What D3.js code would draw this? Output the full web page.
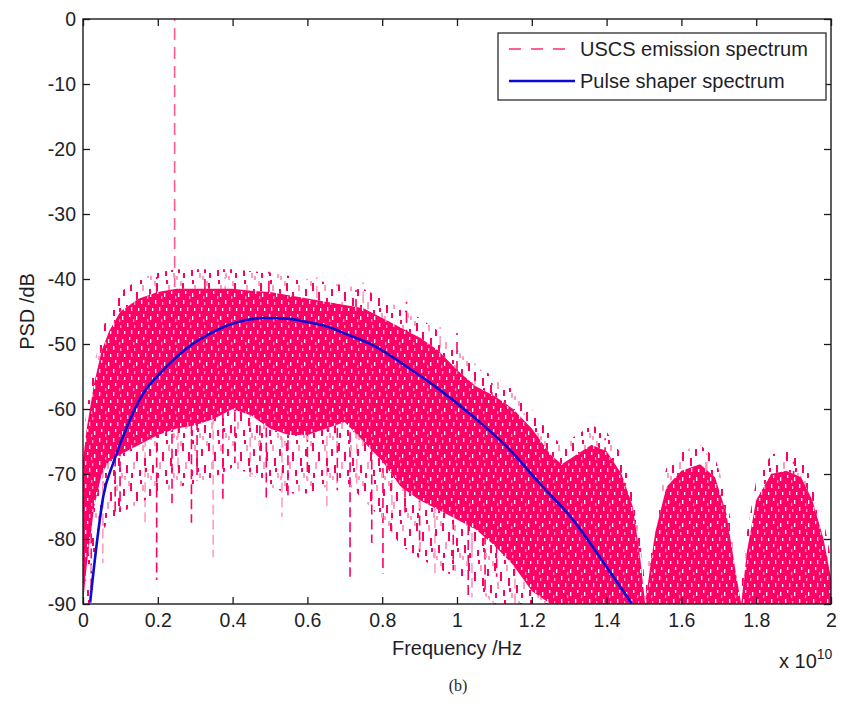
<!DOCTYPE html>
<html>
<head>
<meta charset="utf-8">
<script src="https://cdn.jsdelivr.net/npm/d3@7"></script>
<style>
  body { margin: 0; background: #fff; }
  text { font-family: "Liberation Sans", Arial, sans-serif; fill: #1e1e28; }
</style>
</head>
<body>
<div id="chart"></div>
<script>
// frequencies in units of 1e10 Hz, levels in dB
var bandFreq = [0, 0.01, 0.03, 0.05, 0.07, 0.1, 0.15, 0.2, 0.25, 0.3, 0.35, 0.4, 0.45, 0.5, 0.55, 0.6, 0.65, 0.7, 0.75, 0.8,
  0.85, 0.9, 0.95, 1.0, 1.05, 1.1, 1.15, 1.2, 1.25, 1.28, 1.32, 1.36, 1.4, 1.44, 1.47, 1.49, 1.503, 1.515, 1.53, 1.56,
  1.6, 1.65, 1.69, 1.72, 1.745, 1.76, 1.775, 1.8, 1.84, 1.88, 1.92, 1.95, 1.98, 2.0];
var bandTop = [-68, -63, -56, -51, -48, -45, -43, -42, -41.5, -41.5, -41.5, -41.5, -41.8, -42, -42.5, -43, -43.5, -44, -44.5, -46,
  -47.5, -49, -51, -54, -56.5, -58, -60, -63, -67, -68.5, -67, -65.5, -66.5, -70, -75, -83, -90, -85, -79, -72,
  -69.5, -68.5, -70.5, -76, -85, -90, -82, -74, -70, -69.5, -70.5, -74, -80, -86];
var bandBottom = [-90, -84, -75, -70, -68, -67, -65.5, -64, -63, -62.5, -61.5, -60, -61, -63, -64, -64, -63, -62, -65, -68,
  -72, -74, -75.5, -77, -78.5, -81, -84, -88, -90, -90, -90, -90, -90, -90, -90, -90, -90, -90, -90, -90,
  -90, -90, -90, -90, -90, -90, -90, -90, -90, -90, -90, -90, -90, -90];

// isolated deep notches and tall spikes of the emission spectrum
var dipFreq = [0.022, 0.053, 0.086, 0.099, 0.166, 0.197, 0.238, 0.254, 0.29, 0.305, 0.348, 0.374, 0.406, 0.447, 0.473, 0.49, 0.532,
  0.548, 0.6, 0.652, 0.68, 0.714, 0.732, 0.772, 0.802, 0.826, 0.861, 0.9, 0.941, 0.99, 1.03, 1.04, 1.075, 1.106, 1.155];
var dipLow = [-88, -83.7, -76, -75.5, -77.5, -86.3, -74.5, -70, -77.5, -71, -82.8, -74.5, -68.3, -71, -68, -74, -76.6,
  -73.5, -71, -75, -72.5, -85.8, -72.5, -80.6, -85.3, -79, -76.6, -82, -85.8, -84.8, -89, -89, -88, -85.8, -90];
var peakFreq = [0.197, 0.245, 0.326, 0.38, 0.497, 0.625, 0.73, 0.749, 0.865, 0.955, 1.0, 1.048, 1.093, 1.18, 1.396, 1.668, 1.9];
var peakHigh = [-39.7, 0, -38.6, -39.7, -38.9, -39.7, -41.7, -40.5, -43.5, -47.4, -48.3, -53, -56, -60.6, -64.5, -66.8, -68.1];

var pulseFreq = [0.019, 0.037, 0.054, 0.081, 0.117, 0.161, 0.206, 0.25, 0.295, 0.34, 0.384, 0.438, 0.491, 0.545, 0.598, 0.652,
  0.705, 0.776, 0.866, 0.955, 1.044, 1.133, 1.222, 1.311, 1.4, 1.467];
var pulseDb = [-89.8, -80.6, -73.5, -68.3, -62.8, -57.6, -54.5, -52, -49.9, -48.4, -47.2, -46.3, -46, -46.1, -46.6, -47.3,
  -48.5, -50.2, -53.5, -57.1, -61.2, -65.8, -71.5, -77.1, -84.3, -89.9];

var xTicks = [0, 0.2, 0.4, 0.6, 0.8, 1, 1.2, 1.4, 1.6, 1.8, 2];
var yTicks = [0, -10, -20, -30, -40, -50, -60, -70, -80, -90];
var legendNames = ["USCS emission spectrum", "Pulse shaper spectrum"];

var W = 842, H = 705;
var plotLeft = 83, plotRight = 831, plotTop = 19, plotBottom = 604;
var pink = "#ff0066", pinkLight = "#ff9dbf", blue = "#0a0ad2";

var x = d3.scaleLinear().domain([0, 2]).range([plotLeft, plotRight]);
var y = d3.scaleLinear().domain([-90, 0]).range([plotBottom, plotTop]);

var svg = d3.select("#chart").append("svg")
  .attr("width", W).attr("height", H)
  .style("background", "#fff");

var defs = svg.append("defs");
defs.append("clipPath").attr("id", "plotClip")
  .append("rect").attr("x", plotLeft).attr("y", plotTop).attr("width", plotRight - plotLeft).attr("height", plotBottom - plotTop);

// dense core: pink with small vertical white gaps
var pat = defs.append("pattern").attr("id", "psdTex")
  .attr("patternUnits", "userSpaceOnUse").attr("width", 14).attr("height", 23);
pat.append("rect").attr("width", 14).attr("height", 23).attr("fill", pink);
[[1, 1, 1.3, 4, "#fff"], [5, 8, 1.3, 4, "#ffd0e0"], [3, 15, 1.3, 3, "#fff"], [8, 3, 1.3, 3, pinkLight],
 [10, 17, 1.3, 4, "#fff"], [12, 9, 1.3, 3, "#fff"], [7, 20, 1.3, 3, pinkLight]].forEach(function (r) {
  pat.append("rect").attr("x", r[0]).attr("y", r[1]).attr("width", r[2]).attr("height", r[3]).attr("fill", r[4]);
});

// ragged fringe: sparse vertical dashes
var fr = defs.append("pattern").attr("id", "psdFringe")
  .attr("patternUnits", "userSpaceOnUse").attr("width", 26).attr("height", 40);
[[0, 3, 2, 8, pink], [3, 22, 2, 7, pinkLight], [6, 12, 2, 9, pink], [9, 30, 2, 6, pink], [12, 5, 2, 6, pinkLight],
 [14, 18, 2, 8, pink], [17, 33, 2, 5, pinkLight], [19, 9, 2, 7, pink], [22, 25, 2, 8, pink], [24, 1, 2, 5, pinkLight],
 [1, 33, 2, 5, pink], [10, 0, 2, 4, pink], [15, 28, 2, 4, pink], [20, 36, 2, 4, pinkLight]].forEach(function (r) {
  fr.append("rect").attr("x", r[0]).attr("y", r[1]).attr("width", r[2]).attr("height", r[3]).attr("fill", r[4]);
});

var plot = svg.append("g").attr("clip-path", "url(#plotClip)");

// notches below the band
plot.selectAll(".dip").data(dipFreq).enter().append("line")
  .attr("class", "dip")
  .attr("x1", function (d) { return x(d); }).attr("x2", function (d) { return x(d); })
  .attr("y1", function (d, i) { return y(dipLow[i] + 25); })
  .attr("y2", function (d, i) { return y(dipLow[i]); })
  .attr("stroke", function (d, i) { return i % 3 == 1 ? pinkLight : pink; })
  .attr("stroke-width", 1.6)
  .attr("stroke-dasharray", "10,5")
  .attr("stroke-dashoffset", function (d, i) { return (i * 7) % 15; });

// spikes above the band
plot.selectAll(".peak").data(peakFreq).enter().append("line")
  .attr("class", "peak")
  .attr("x1", function (d) { return x(d); }).attr("x2", function (d) { return x(d); })
  .attr("y1", function (d, i) { return y(Math.min(peakHigh[i] - 12, -50)); })
  .attr("y2", function (d, i) { return y(peakHigh[i]); })
  .attr("stroke", function (d, i) { return peakHigh[i] == 0 ? "#ff5a92" : (i % 2 ? pinkLight : pink); })
  .attr("stroke-width", 1.6)
  .attr("stroke-dasharray", "12,7");

var bandData = bandFreq.map(function (f, i) { return { f: f, hi: bandTop[i], lo: bandBottom[i] }; });
var bx = function (d) { return x(d.f); };

// upper and lower fringes, then the dense core on top
plot.append("path").datum(bandData)
  .attr("d", d3.area().x(bx).y0(function (d) { return y(d.hi); }).y1(function (d) { return y(d.hi + 3); }))
  .attr("fill", "url(#psdFringe)");
plot.append("path").datum(bandData)
  .attr("d", d3.area().x(bx).y0(function (d) { return y(d.lo - 9); }).y1(function (d) { return y(d.lo); }))
  .attr("fill", "url(#psdFringe)");
plot.append("path").datum(bandData)
  .attr("d", d3.area().x(bx).y0(function (d) { return y(d.lo); }).y1(function (d) { return y(d.hi); }))
  .attr("fill", "url(#psdTex)");

var pulseData = pulseFreq.map(function (f, i) { return { f: f, db: pulseDb[i] }; });
var line = d3.line()
  .x(function (d) { return x(d.f); })
  .y(function (d) { return y(d.db); })
  .curve(d3.curveMonotoneX);
plot.append("path").datum(pulseData).attr("d", line)
  .attr("fill", "none").attr("stroke", blue).attr("stroke-width", 2.6);

// axes, MATLAB style box with inward ticks
var fmt = d3.format("~g");
var gx = svg.append("g").attr("transform", "translate(0," + plotBottom + ")")
  .call(d3.axisBottom(x).tickValues(xTicks).tickFormat(fmt).tickSizeInner(-7).tickSizeOuter(0).tickPadding(9));
var gxt = svg.append("g").attr("transform", "translate(0," + plotTop + ")")
  .call(d3.axisTop(x).tickValues(xTicks).tickFormat("").tickSizeInner(-7).tickSizeOuter(0));
var gy = svg.append("g").attr("transform", "translate(" + plotLeft + ",0)")
  .call(d3.axisLeft(y).tickValues(yTicks).tickFormat(function (d) { return String(d); }).tickSizeInner(-7).tickSizeOuter(0).tickPadding(7));
var gyr = svg.append("g").attr("transform", "translate(" + plotRight + ",0)")
  .call(d3.axisRight(y).tickValues(yTicks).tickFormat("").tickSizeInner(-7).tickSizeOuter(0));

[gx, gxt, gy, gyr].forEach(function (g) {
  g.select(".domain").remove();
  g.selectAll(".tick line").attr("stroke", "#1a1a1a").attr("stroke-width", 1.3);
  g.selectAll(".tick text").attr("font-size", 19.5).attr("fill", "#1e1e28")
    .style("font-family", "'Liberation Sans', Arial, sans-serif");
});

svg.append("rect").attr("x", plotLeft).attr("y", plotTop).attr("width", plotRight - plotLeft).attr("height", plotBottom - plotTop)
  .attr("fill", "none").attr("stroke", "#1a1a1a").attr("stroke-width", 1.4);

// axis titles
svg.append("text").attr("x", 457).attr("y", 655).attr("text-anchor", "middle")
  .attr("font-size", 20).text("Frequency /Hz");
svg.append("text").attr("transform", "translate(34," + ((plotTop + plotBottom) / 2) + ") rotate(-90)")
  .attr("text-anchor", "middle").attr("font-size", 20).text("PSD /dB");
var exp = svg.append("text").attr("x", 779).attr("y", 668).attr("font-size", 20);
exp.append("tspan").text("x 10");
exp.append("tspan").attr("dy", -9).attr("font-size", 14).text("10");

svg.append("text").attr("x", 458).attr("y", 691).attr("text-anchor", "middle")
  .attr("font-size", 16).style("font-family", "'Liberation Serif', 'Times New Roman', serif").attr("fill", "#111")
  .text("(b)");

// legend
var lg = svg.append("g").attr("transform", "translate(498,33)");
lg.append("rect").attr("width", 328).attr("height", 67).attr("fill", "#fff").attr("stroke", "#1a1a1a").attr("stroke-width", 1.2);
lg.append("line").attr("x1", 11).attr("x2", 72).attr("y1", 16).attr("y2", 16)
  .attr("stroke", "#ff2a77").attr("stroke-width", 1.6).attr("stroke-dasharray", "12,10");
lg.append("line").attr("x1", 11).attr("x2", 77).attr("y1", 48).attr("y2", 48)
  .attr("stroke", blue).attr("stroke-width", 2.6);
lg.selectAll(".lt").data(legendNames).enter().append("text")
  .attr("class", "lt")
  .attr("x", 82).attr("y", function (d, i) { return 23 + i * 32; })
  .attr("font-size", 20).text(function (d) { return d; });
</script>
</body>
</html>
